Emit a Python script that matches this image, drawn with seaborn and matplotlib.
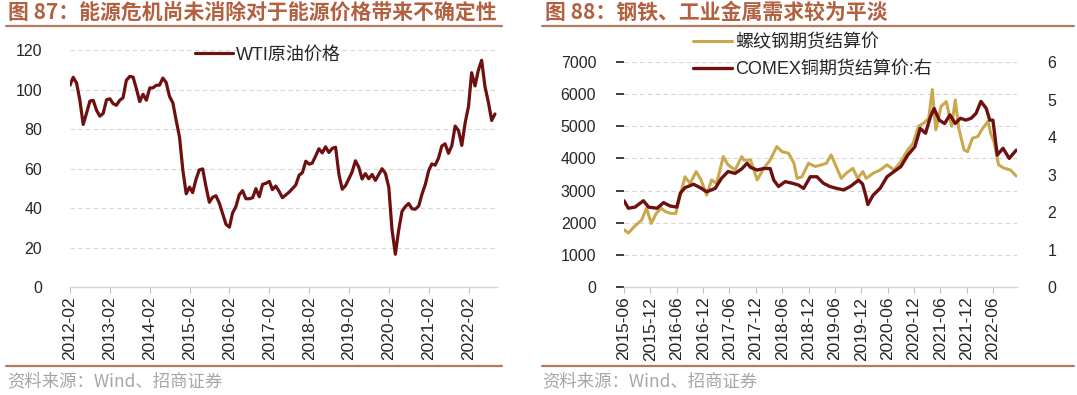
import pandas as pd
import matplotlib.pyplot as plt
import matplotlib.lines as mlines
import seaborn as sns

# %% 数据
wti_start = '2012-02-01'
wti_price = [102.2, 106.2, 103.3, 94.7, 82.3, 87.9, 94.1, 94.5, 89.5, 86.5, 87.9,
             94.8, 95.3, 92.9, 92.0, 94.5, 95.8, 104.6, 106.6, 106.3, 100.5, 93.9, 97.6,
             94.6, 100.8, 100.8, 102.1, 102.2, 105.8, 103.6, 96.5, 93.2, 84.4, 75.8, 59.3,
             47.2, 50.6, 47.8, 54.5, 59.3, 59.8, 50.9, 42.9, 45.5, 46.2, 42.4, 37.2,
             31.7, 30.3, 37.5, 40.8, 46.7, 48.8, 44.7, 44.7, 45.2, 49.8, 45.7, 52.0,
             52.5, 53.5, 49.3, 51.1, 48.5, 45.2, 46.6, 48.0, 49.8, 51.6, 56.6, 57.9,
             63.7, 62.2, 62.7, 66.3, 70.0, 67.9, 71.0, 68.1, 70.2, 70.8, 57.0, 49.5,
             51.4, 54.9, 58.2, 63.9, 60.8, 54.7, 57.4, 54.8, 57.0, 54.0, 57.0, 59.9,
             57.5, 50.5, 29.2, 16.6, 28.6, 38.3, 40.7, 42.3, 39.6, 39.4, 41.0, 47.0,
             52.0, 59.0, 62.3, 61.7, 65.2, 71.4, 72.5, 67.7, 71.6, 81.5, 79.2, 71.7,
             83.2, 91.6, 108.5, 101.8, 109.6, 114.8, 101.6, 93.7, 84.3, 87.6]
wti_ticks = ['2012-02', '2013-02', '2014-02', '2015-02', '2016-02', '2017-02',
             '2018-02', '2019-02', '2020-02', '2021-02', '2022-02']

rebar_dates = ['2015-06-01', '2015-07-01', '2015-08-16', '2015-10-01', '2015-11-04', '2015-12-07',
               '2016-01-10', '2016-02-13', '2016-03-16', '2016-04-22', '2016-05-25', '2016-06-28',
               '2016-07-28', '2016-09-01', '2016-10-13', '2016-11-16', '2016-12-25', '2017-01-28',
               '2017-03-04', '2017-04-19', '2017-05-22', '2017-07-10', '2017-08-25', '2017-09-07',
               '2017-10-25', '2017-12-10', '2018-01-25', '2018-03-10', '2018-04-25', '2018-06-01',
               '2018-07-16', '2018-08-22', '2018-09-13', '2018-10-16', '2018-12-01', '2019-01-16',
               '2019-03-01', '2019-04-04', '2019-05-07', '2019-06-10', '2019-07-16', '2019-08-19',
               '2019-10-04', '2019-11-07', '2019-12-13', '2020-01-04', '2020-02-22', '2020-04-10',
               '2020-05-28', '2020-07-16', '2020-09-01', '2020-10-19', '2020-11-25', '2021-01-01',
               '2021-02-07', '2021-03-13', '2021-04-07', '2021-05-01', '2021-06-07', '2021-07-13',
               '2021-08-19', '2021-09-13', '2021-10-07', '2021-11-13', '2021-12-07', '2022-01-10',
               '2022-02-16', '2022-03-22', '2022-04-28', '2022-05-16', '2022-06-10', '2022-07-10',
               '2022-08-16', '2022-10-01', '2022-11-10']
rebar_price = [1780, 1680, 1900, 2080, 2450, 1980,
               2290, 2450, 2340, 2290, 2290, 2910,
               3430, 3220, 3590, 3330, 2860, 3330,
               3220, 4060, 3800, 3640, 4060, 3950,
               3950, 3330, 3690, 3950, 4370, 4210,
               4160, 3850, 3380, 3430, 3850, 3750,
               3800, 3850, 4110, 3750, 3380, 3540,
               3690, 3380, 3590, 3380, 3540, 3640,
               3800, 3640, 3900, 4270, 4470, 5000,
               5100, 5250, 6140, 4890, 5620, 5770,
               5000, 5820, 4940, 4270, 4210, 4630,
               4680, 4940, 5150, 4790, 4500, 3800,
               3700, 3640, 3450]

copper_dates = ['2015-06-01', '2015-07-01', '2015-08-16', '2015-10-13', '2015-11-19', '2016-01-16',
                '2016-03-01', '2016-04-16', '2016-06-01', '2016-06-25', '2016-07-28', '2016-09-25',
                '2016-11-10', '2016-12-25', '2017-02-22', '2017-04-07', '2017-05-22', '2017-07-10',
                '2017-08-25', '2017-10-01', '2017-10-25', '2017-12-10', '2018-01-25', '2018-03-10',
                '2018-04-04', '2018-05-07', '2018-06-22', '2018-08-07', '2018-09-22', '2018-10-28',
                '2018-12-13', '2019-01-28', '2019-03-13', '2019-04-28', '2019-06-13', '2019-08-01',
                '2019-09-16', '2019-11-13', '2019-12-10', '2020-01-01', '2020-01-16', '2020-02-22',
                '2020-04-10', '2020-05-28', '2020-07-16', '2020-09-01', '2020-10-19', '2020-12-07',
                '2021-01-13', '2021-02-19', '2021-03-25', '2021-04-19', '2021-05-25', '2021-07-01',
                '2021-08-07', '2021-09-13', '2021-10-19', '2021-11-25', '2022-01-01', '2022-02-04',
                '2022-03-10', '2022-04-16', '2022-05-10', '2022-06-01', '2022-07-01', '2022-08-10',
                '2022-09-22', '2022-11-10']
copper_price = [2.30, 2.10, 2.13, 2.30, 2.13, 2.10,
                2.25, 2.16, 2.13, 2.50, 2.65, 2.74,
                2.65, 2.54, 2.63, 2.90, 3.08, 3.03,
                3.15, 3.30, 3.19, 3.12, 3.16, 3.16,
                2.85, 2.68, 2.81, 2.77, 2.72, 2.63,
                2.94, 2.94, 2.77, 2.68, 2.63, 2.59,
                2.68, 2.85, 2.75, 2.45, 2.20, 2.45,
                2.63, 2.94, 3.08, 3.21, 3.52, 3.74,
                4.23, 4.10, 4.54, 4.76, 4.45, 4.36,
                4.59, 4.36, 4.50, 4.45, 4.50, 4.63,
                4.95, 4.76, 4.45, 4.45, 3.52, 3.70,
                3.43, 3.65]
metal_ticks = ['2015-06', '2015-12', '2016-06', '2016-12', '2017-06', '2017-12', '2018-06',
               '2018-12', '2019-06', '2019-12', '2020-06', '2020-12', '2021-06', '2021-12', '2022-06']

df_wti = pd.DataFrame({'date': pd.date_range(wti_start, periods=len(wti_price), freq='MS'),
                       'price': wti_price})
df_rebar = pd.DataFrame({'date': pd.to_datetime(rebar_dates), 'price': rebar_price})
df_copper = pd.DataFrame({'date': pd.to_datetime(copper_dates), 'price': copper_price})

# %% 样式
sns.set_theme(style='white')
plt.rcParams['font.family'] = ['Liberation Sans', 'Noto Sans CJK SC']
plt.rcParams['axes.unicode_minus'] = False

maroon = '#6E1010'
gold = '#C9A84E'
title_color = '#B2603F'
rule_color = '#B07A63'
grid_color = '#D6D6D6'
fs = 11.5
fs_x = 12.5
fs_leg = 13

fig = plt.figure(figsize=(10.77, 3.95), dpi=100)
ax1 = fig.add_axes([0.065, 0.2734, 0.3965, 0.60])
ax_r = fig.add_axes([0.5794, 0.2734, 0.3649, 0.5696])


def style_axis(ax, ticks):
    for s in ['top', 'right', 'left']:
        ax.spines[s].set_visible(False)
    ax.spines['bottom'].set_color('#D9D9D9')
    ax.spines['bottom'].set_linewidth(1.0)
    ax.yaxis.grid(True, color=grid_color, linestyle=(0, (4, 3)), linewidth=0.8)
    ax.xaxis.grid(False)
    ax.set_axisbelow(True)
    ax.set_xlabel('')
    ax.set_ylabel('')
    ax.set_xticks(pd.to_datetime(ticks))
    ax.set_xticklabels(ticks, rotation=90, fontsize=fs_x)
    ax.tick_params(axis='x', bottom=True, length=4, width=0.8, color='#BFBFBF', pad=3)
    ax.tick_params(axis='y', left=False, labelsize=fs, pad=14)


# %% 图87 WTI
sns.lineplot(data=df_wti, x='date', y='price', color=maroon, linewidth=2.3, ax=ax1)
ax1.set_ylim(0, 120)
ax1.set_yticks(range(0, 121, 20))
ax1.set_xlim(pd.Timestamp('2012-02-01'), pd.Timestamp('2022-10-20'))
style_axis(ax1, wti_ticks)
h1 = mlines.Line2D([], [], color=maroon, linewidth=2.3)
fig.legend([h1], ['WTI原油价格'], loc='center left', bbox_to_anchor=(0.181, 0.861),
           frameon=False, fontsize=fs_leg, handlelength=2.1, handletextpad=0.15,
           borderpad=0, borderaxespad=0)

# %% 图88 钢铁、铜
sns.lineplot(data=df_rebar, x='date', y='price', color=gold, linewidth=2.2, ax=ax_r)
ax_r.set_ylim(0, 7000)
ax_r.set_yticks(range(0, 7001, 1000))
ax_r.set_xlim(pd.Timestamp('2015-06-01'), pd.Timestamp('2022-11-15'))
style_axis(ax_r, metal_ticks)

ax2 = ax_r.twinx()
sns.lineplot(data=df_copper, x='date', y='price', color=maroon, linewidth=2.4, ax=ax2)
ax2.set_ylim(0, 6)
ax2.set_yticks(range(0, 7))
ax2.set_ylabel('')
for s in ax2.spines.values():
    s.set_visible(False)
ax2.tick_params(axis='y', right=False, labelsize=fs, pad=16)
ax2.grid(False)

h_r = mlines.Line2D([], [], color=gold, linewidth=2.2)
h_c = mlines.Line2D([], [], color=maroon, linewidth=2.4)
fig.legend([h_r, h_c], ['螺纹钢期货结算价', 'COMEX铜期货结算价:右'], loc='center left',
           bbox_to_anchor=(0.643, 0.858), frameon=False, fontsize=fs_leg, handlelength=2.2,
           handletextpad=0.15, labelspacing=0.55, borderpad=0, borderaxespad=0)

# %% 标题、来源
fig.text(0.007, 0.968, '图 87：能源危机尚未消除对于能源价格带来不确定性', fontsize=15,
         fontweight='bold', color=title_color, va='center', family=['Noto Sans CJK SC'])
fig.text(0.506, 0.968, '图 88：钢铁、工业金属需求较为平淡', fontsize=15,
         fontweight='bold', color=title_color, va='center', family=['Noto Sans CJK SC'])
for x0, x1 in [(0.006, 0.466), (0.503, 0.997)]:
    fig.add_artist(mlines.Line2D([x0, x1], [0.934, 0.934], color=rule_color, linewidth=1.6))
    fig.add_artist(mlines.Line2D([x0, x1], [0.073, 0.073], color=rule_color, linewidth=1.6))
fig.text(0.007, 0.035, '资料来源：Wind、招商证券', fontsize=12.5, color='#A6A6A6',
         va='center', family=['Noto Sans CJK SC'])
fig.text(0.503, 0.035, '资料来源：Wind、招商证券', fontsize=12.5, color='#A6A6A6',
         va='center', family=['Noto Sans CJK SC'])

fig.savefig('out.png', dpi=100)
